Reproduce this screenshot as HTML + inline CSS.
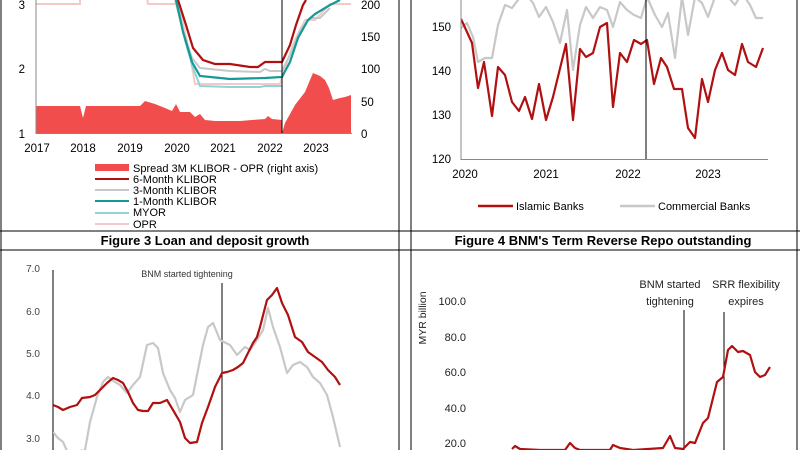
<!DOCTYPE html>
<html><head><meta charset="utf-8"><style>
html,body{margin:0;padding:0;background:#fff;width:800px;height:450px;overflow:hidden}
svg{display:block;font-family:"Liberation Sans",sans-serif}
</style></head><body>
<svg width="800" height="450" viewBox="0 0 800 450" xmlns="http://www.w3.org/2000/svg">
<rect width="800" height="450" fill="#fff"/>
<g stroke="#000" stroke-width="1" fill="none">
<line x1="1" y1="0" x2="1" y2="450"/>
<line x1="399" y1="0" x2="399" y2="450"/>
<line x1="411" y1="0" x2="411" y2="450"/>
<line x1="797" y1="0" x2="797" y2="450"/>
<line x1="0" y1="231" x2="800" y2="231"/>
<line x1="0" y1="250" x2="800" y2="250"/>
</g>
<defs><clipPath id="c1"><rect x="36" y="0" width="316" height="134"/></clipPath>
<clipPath id="c2"><rect x="461" y="0" width="310" height="160"/></clipPath>
<clipPath id="c3"><rect x="53" y="250" width="340" height="200"/></clipPath></defs>
<g clip-path="url(#c1)">
<path d="M36,106 L80,106 L83,118 L86,106 L140,106 L145,101 L155,104 L165,108 L172,111 L176,104 L180,112 L190,112 L195,117 L200,114 L205,120 L215,121 L240,121 L265,119 L268,116 L272,119 L282,120 L282,133 L285,123 L295,105 L305,92 L310,80 L313,73 L320,76 L325,80 L329,88 L333,100 L340,98 L345,97 L351,95 L351,133 L36,133 Z" fill="#f24d4d"/>
<path d="M36,4 L80,4 L80,-2 L147,-2 L148,4 L177,4 L180,10 L190,55 L195,84 L280,84 L285,68 L295,40 L305,20 L315,20 L330,4 L351,4" fill="none" stroke="#f6c9c9" stroke-width="2"/>
<path d="M177,0 L185,40 L192,65 L200,86 L230,87 L260,87 L265,86 L282,86" fill="none" stroke="#8fd4d4" stroke-width="2"/>
<path d="M175,0 L183,30 L192,58 L200,68 L230,71 L260,72 L265,69 L270,71 L282,71 L290,55 L300,30 L310,18 L320,18 L330,8" fill="none" stroke="#c8c8c8" stroke-width="2"/>
<path d="M176,0 L183,32 L192,62 L200,76 L230,79 L265,78 L282,77 L290,62 L298,38 L308,20 L315,14 L330,5 L340,0" fill="none" stroke="#149a96" stroke-width="2.2"/>
<path d="M178,0 L186,25 L193,48 L203,60 L215,64 L230,64 L250,67 L258,67 L265,62 L282,62 L290,45 L296,25 L303,5 L306,0" fill="none" stroke="#b01010" stroke-width="2.2"/>
</g>
<line x1="282" y1="0" x2="282" y2="133" stroke="#000" stroke-width="1"/>
<line x1="36" y1="0" x2="36" y2="134" stroke="#888"/>
<line x1="36" y1="133.5" x2="352" y2="133.5" stroke="#888"/>
<g font-size="11.5" fill="#000">
<text x="25" y="9" text-anchor="end">3</text>
<text x="25" y="73" text-anchor="end">2</text>
<text x="25" y="138" text-anchor="end">1</text>
<text x="361" y="9">200</text>
<text x="361" y="41">150</text><text x="361" y="73">100</text><text x="361" y="106">50</text><text x="361" y="138">0</text>
</g>
<g font-size="11.5" text-anchor="middle">
<text x="37" y="152">2017</text><text x="83" y="152">2018</text><text x="130" y="152">2019</text><text x="177" y="152">2020</text><text x="223" y="152">2021</text><text x="270" y="152">2022</text><text x="316" y="152">2023</text>
</g>
<rect x="95" y="164" width="34" height="7" fill="#f24d4d"/>
<line x1="95" y1="179" x2="129" y2="179" stroke="#b01010" stroke-width="2"/>
<line x1="95" y1="190" x2="129" y2="190" stroke="#c8c8c8" stroke-width="2"/>
<line x1="95" y1="201" x2="129" y2="201" stroke="#149a96" stroke-width="2"/>
<line x1="95" y1="213" x2="129" y2="213" stroke="#8fd4d4" stroke-width="2"/>
<line x1="95" y1="224" x2="129" y2="224" stroke="#f6c9c9" stroke-width="2"/>
<g font-size="11">
<text x="133" y="172">Spread 3M KLIBOR - OPR (right axis)</text>
<text x="133" y="183">6-Month KLIBOR</text>
<text x="133" y="194">3-Month KLIBOR</text>
<text x="133" y="205">1-Month KLIBOR</text>
<text x="133" y="216">MYOR</text>
<text x="133" y="228">OPR</text>
</g>
<g clip-path="url(#c2)" fill="none" stroke-width="2.2" stroke-linejoin="round">
<polyline stroke="#c8c8c8" points="461,28 467,23 473,37 478,62 485,58 492,58 498,25 505,5 512,8 518,0 525,-7 533,3 539,17 546,7 553,22 560,43 567,10 573,70 580,25 586,7 593,18 600,7 607,10 613,27 620,2 627,10 634,15 641,18 647,-3 655,15 662,27 668,13 675,58 682,-3 688,35 695,-3 702,3 708,17 715,-3 728,-3 735,5 742,-7 750,5 756,18 763,18"/>
<polyline stroke="#b01010" points="461,19 467,32 472,43 478,88 484,62 492,116 498,67 505,75 512,102 519,111 525,97 532,119 539,84 546,120 553,97 566,44 573,120 580,49 586,57 593,53 600,27 607,23 613,107 620,53 627,62 634,40 641,44 647,40 654,84 661,58 667,67 674,89 682,89 688,128 695,138 702,79 708,102 715,70 722,53 728,70 735,75 742,44 748,62 756,67 763,48"/>
</g>
<line x1="646" y1="0" x2="646" y2="160" stroke="#000"/>
<line x1="461" y1="0" x2="461" y2="160" stroke="#888"/>
<line x1="461" y1="159.5" x2="768" y2="159.5" stroke="#888"/>
<g font-size="11.5" text-anchor="end">
<text x="451" y="31">150</text><text x="451" y="75">140</text><text x="451" y="119">130</text><text x="451" y="163">120</text>
</g>
<g font-size="11.5" text-anchor="middle">
<text x="465" y="178">2020</text><text x="546" y="178">2021</text><text x="628" y="178">2022</text><text x="708" y="178">2023</text>
</g>
<line x1="478" y1="206" x2="513" y2="206" stroke="#b01010" stroke-width="2.5"/>
<line x1="620" y1="206" x2="655" y2="206" stroke="#c8c8c8" stroke-width="2.5"/>
<g font-size="11"><text x="516" y="210">Islamic Banks</text><text x="658" y="210">Commercial Banks</text></g>
<g font-size="13" font-weight="bold" text-anchor="middle">
<text x="205" y="245">Figure 3 Loan and deposit growth</text>
<text x="603" y="245">Figure 4 BNM's Term Reverse Repo outstanding</text>
</g>
<g font-size="10" fill="#444" text-anchor="end">
<text x="40" y="272">7.0</text><text x="40" y="315">6.0</text><text x="40" y="357">5.0</text><text x="40" y="399">4.0</text><text x="40" y="442">3.0</text>
</g>
<line x1="53" y1="270" x2="53" y2="450" stroke="#000"/>
<line x1="222" y1="283" x2="222" y2="450" stroke="#000"/>
<text x="187" y="277" font-size="9" fill="#333" text-anchor="middle">BNM started tightening</text>
<g clip-path="url(#c3)" fill="none" stroke-width="2.2" stroke-linejoin="round">
<polyline stroke="#c8c8c8" points="53,432 58,438 63,442 68,453 85,450 90,422 97,397 103,382 108,377 115,382 120,385 127,393 133,385 140,377 147,345 153,343 158,348 163,373 170,390 175,398 180,412 185,400 193,395 198,370 203,345 208,327 213,323 220,340 230,345 237,355 245,347 250,350 257,340 263,330 268,308 273,327 280,347 287,373 293,365 300,362 307,367 313,377 320,383 327,395 333,417 340,447"/>
<polyline stroke="#b01010" points="53,405 58,407 63,410 70,407 77,405 82,398 90,397 95,395 100,390 107,383 113,378 118,380 123,383 128,392 133,403 138,410 143,411 148,411 153,403 160,403 167,400 173,410 180,422 185,438 190,443 197,442 202,423 208,407 215,387 222,373 227,372 233,370 238,367 243,363 248,353 253,343 257,337 260,327 267,300 272,295 277,288 282,303 288,315 295,337 302,342 308,352 315,357 322,362 328,370 335,377 340,385"/>
</g>
<g font-size="11" fill="#222" text-anchor="end">
<text x="466" y="305">100.0</text><text x="466" y="341">80.0</text><text x="466" y="376">60.0</text><text x="466" y="412">40.0</text><text x="466" y="447">20.0</text>
</g>
<text transform="translate(426,318) rotate(-90)" font-size="10.5" text-anchor="middle" fill="#222">MYR billion</text>
<line x1="684" y1="310" x2="684" y2="450" stroke="#000"/>
<line x1="724" y1="312" x2="724" y2="450" stroke="#000"/>
<g font-size="11" fill="#222" text-anchor="middle">
<text x="670" y="288">BNM started</text><text x="670" y="305">tightening</text>
<text x="746" y="288">SRR flexibility</text><text x="746" y="305">expires</text>
</g>
<polyline fill="none" stroke="#b01010" stroke-width="2.2" stroke-linejoin="round" points="512,449 515,446 520,449 540,450 565,450 570,443 575,448 580,450 610,450 613,445 620,448 633,450 663,448 670,436 675,448 683,449 690,442 695,443 703,423 708,418 717,382 723,377 728,350 732,346 738,352 743,351 750,355 755,372 760,377 765,375 770,367"/>
</svg>
</body></html>
